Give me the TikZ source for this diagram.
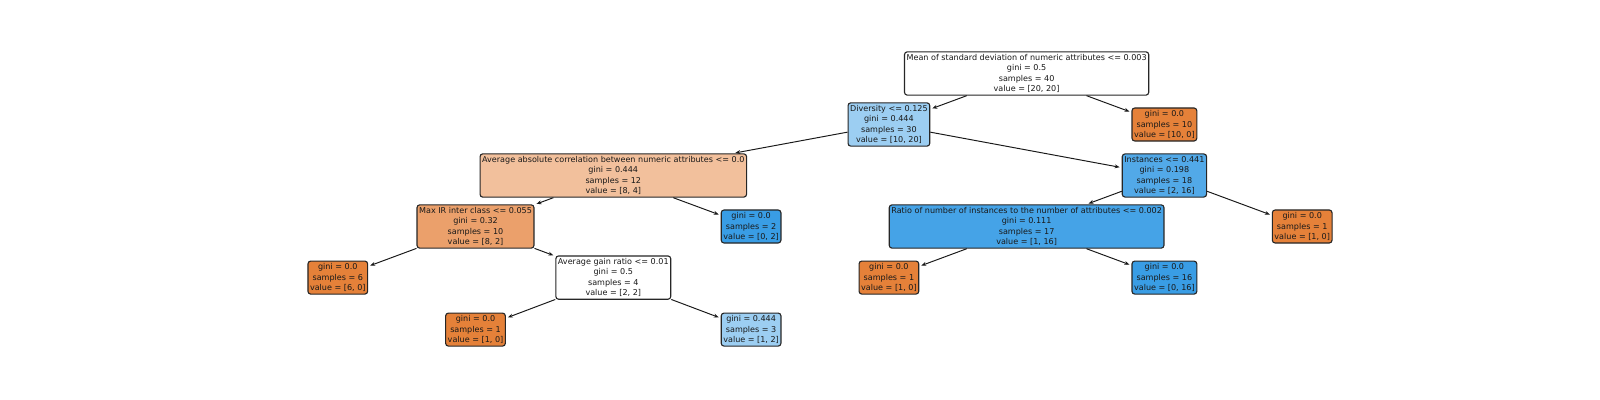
\documentclass[tikz,border=0pt]{standalone}
\usepackage{fontspec}
\setmainfont{DejaVu Sans}
\usetikzlibrary{arrows.meta}
\definecolor{cor}{HTML}{E58139}
\definecolor{cbl}{HTML}{399DE5}
\tikzset{
  tnode/.style={draw=black!85, line width=0.8pt, rounded corners=2pt, align=center,
    inner xsep=1.5pt, inner ysep=1.9pt, font=\fontsize{5.8}{7.4}\selectfont, text=black!90},
  edge/.style={line width=0.7pt, black!90, -{Stealth[length=3.6pt,width=2.8pt]}, shorten >=1.5pt}
}
\begin{document}
\begin{tikzpicture}[x=0.72pt,y=-0.72pt]
\useasboundingbox (0,0) rectangle (1600,400);
\node[tnode, fill=white] (n0) at (1026.6,73.5) {Mean of standard deviation of numeric attributes <= 0.003\\gini = 0.5\\samples = 40\\value = [20, 20]};
\node[tnode, fill=cbl!50!white] (n1) at (888.9,124.5) {Diversity <= 0.125\\gini = 0.444\\samples = 30\\value = [10, 20]};
\node[tnode, fill=cor] (n2) at (1164.4,124.5) {gini = 0.0\\samples = 10\\value = [10, 0]};
\node[tnode, fill=cor!50!white] (n3) at (613.3,175.5) {Average absolute correlation between numeric attributes <= 0.0\\gini = 0.444\\samples = 12\\value = [8, 4]};
\node[tnode, fill=cbl!87.5!white] (n4) at (1164.4,175.5) {Instances <= 0.441\\gini = 0.198\\samples = 18\\value = [2, 16]};
\node[tnode, fill=cor!75!white] (n5) at (475.5,226.5) {Max IR inter class <= 0.055\\gini = 0.32\\samples = 10\\value = [8, 2]};
\node[tnode, fill=cbl] (n6) at (751.1,226.5) {gini = 0.0\\samples = 2\\value = [0, 2]};
\node[tnode, fill=cbl!93.75!white] (n7) at (1026.6,226.5) {Ratio of number of instances to the number of attributes <= 0.002\\gini = 0.111\\samples = 17\\value = [1, 16]};
\node[tnode, fill=cor] (n8) at (1302.2,226.5) {gini = 0.0\\samples = 1\\value = [1, 0]};
\node[tnode, fill=cor] (n9) at (337.8,277.6) {gini = 0.0\\samples = 6\\value = [6, 0]};
\node[tnode, fill=white] (n10) at (613.3,277.6) {Average gain ratio <= 0.01\\gini = 0.5\\samples = 4\\value = [2, 2]};
\node[tnode, fill=cor] (n11) at (888.9,277.6) {gini = 0.0\\samples = 1\\value = [1, 0]};
\node[tnode, fill=cbl] (n12) at (1164.4,277.6) {gini = 0.0\\samples = 16\\value = [0, 16]};
\node[tnode, fill=cor] (n13) at (475.5,329.6) {gini = 0.0\\samples = 1\\value = [1, 0]};
\node[tnode, fill=cbl!50!white] (n14) at (751.1,329.6) {gini = 0.444\\samples = 3\\value = [1, 2]};
\foreach \a/\b in {n0/n1,n0/n2,n1/n3,n1/n4,n3/n5,n3/n6,n4/n7,n4/n8,n5/n9,n5/n10,n7/n11,n7/n12,n10/n13,n10/n14}
  \draw[edge] (\a) -- (\b);
\end{tikzpicture}
\end{document}
